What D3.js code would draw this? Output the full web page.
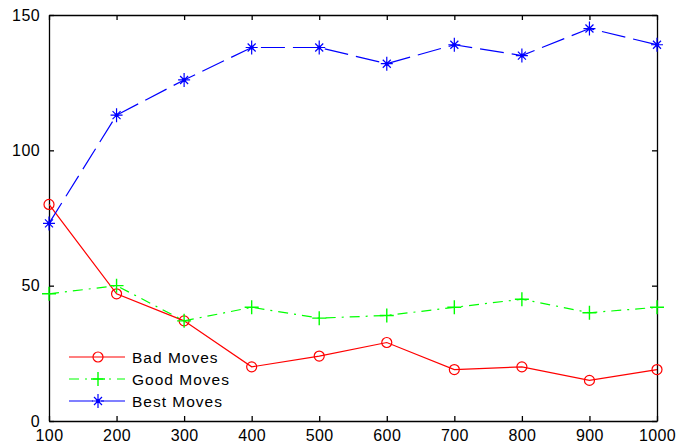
<!DOCTYPE html>
<html>
<head>
<meta charset="utf-8">
<script src="https://cdn.jsdelivr.net/npm/d3@7"></script>
<style>
  body { margin: 0; background: #fff; }
  text { font-family: "Liberation Sans", Arial, sans-serif; }
</style>
</head>
<body>
<div id="chart"></div>
<script>
var xValues = [100, 200, 300, 400, 500, 600, 700, 800, 900, 1000];
var badMoves = [80, 47, 37, 20, 24, 29, 19, 20, 15, 19];
var goodMoves = [47, 50, 37, 42, 38, 39, 42, 45, 40, 42];
var bestMoves = [73, 113, 126, 138, 138, 132, 139, 135, 145, 139];
var yTicks = [0, 50, 100, 150];
var seriesNames = ['Bad Moves', 'Good Moves', 'Best Moves'];

var width = 688, height = 445,
    margin = {top: 15, right: 31, bottom: 24, left: 49};
var w = width - margin.left - margin.right,
    h = height - margin.top - margin.bottom;

var svg = d3.select('#chart').append('svg')
  .attr('width', width)
  .attr('height', height)
  .append('g')
  .attr('transform', `translate(${margin.left},${margin.top})`);

var x = d3.scaleLinear().domain([100, 1000]).range([0, w]);
var y = d3.scaleLinear().domain([0, 150]).range([h, 0]);

var series = [
  {name: seriesNames[0], values: badMoves, color: '#ff0000', dash: null, marker: 'circle'},
  {name: seriesNames[1], values: goodMoves, color: '#00ff00', dash: '10,6,2,6', marker: 'plus'},
  {name: seriesNames[2], values: bestMoves, color: '#0000ff', dash: '24,8', marker: 'star'}
];

// axes, ticks point inward
var tk = 5;
svg.append('g').attr('class', 'x axis')
  .attr('transform', `translate(0,${h})`)
  .call(d3.axisBottom(x).tickValues(xValues).tickFormat(d3.format('d'))
    .tickSizeInner(-tk).tickSizeOuter(0).tickPadding(9));
svg.append('g').attr('class', 'x axis top')
  .call(d3.axisTop(x).tickValues(xValues).tickSizeInner(-tk).tickSizeOuter(0).tickFormat(''));
svg.append('g').attr('class', 'y axis')
  .call(d3.axisLeft(y).tickValues(yTicks).tickSizeInner(-tk).tickSizeOuter(0).tickPadding(9));
svg.append('g').attr('class', 'y axis right')
  .attr('transform', `translate(${w},0)`)
  .call(d3.axisRight(y).tickValues(yTicks).tickSizeInner(-tk).tickSizeOuter(0).tickFormat(''));

svg.selectAll('.axis path, .axis line').attr('stroke', '#000').attr('stroke-width', 1.3);
svg.selectAll('.axis text').attr('font-size', 16).attr('fill', '#000')
  .attr('letter-spacing', 0.4)
  .attr('font-family', '"Liberation Sans", Arial, sans-serif');

function drawMarker(g, type, color) {
  if (type === 'circle') {
    g.append('circle').attr('r', 5).attr('fill', 'none').attr('stroke', color).attr('stroke-width', 1.2);
  } else if (type === 'plus') {
    g.append('path').attr('d', 'M-7,0H7M0,-7V7').attr('stroke', color).attr('stroke-width', 1.4);
  } else {
    g.append('path').attr('d', 'M-6,0H6M0,-7V7M-4,-4L4,4M-4,4L4,-4')
      .attr('stroke', color).attr('stroke-width', 1.2);
    g.append('circle').attr('r', 2).attr('fill', color);
  }
}

var line = d3.line().x((d, i) => x(xValues[i])).y(d => y(d));

series.forEach(s => {
  svg.append('path')
    .datum(s.values)
    .attr('d', line)
    .attr('fill', 'none')
    .attr('stroke', s.color)
    .attr('stroke-width', 1.2)
    .attr('stroke-dasharray', s.dash);
  s.values.forEach((v, i) => {
    var g = svg.append('g').attr('transform', `translate(${x(xValues[i])},${y(v)})`);
    drawMarker(g, s.marker, s.color);
  });
});

// legend
var legend = svg.append('g').attr('transform', 'translate(20,342)');
series.forEach((s, i) => {
  var g = legend.append('g').attr('transform', `translate(0,${i * 22})`);
  g.append('line').attr('x1', 0).attr('x2', 56).attr('y1', 0).attr('y2', 0)
    .attr('stroke', s.color).attr('stroke-width', 1.2).attr('stroke-dasharray', s.dash);
  var m = g.append('g').attr('transform', 'translate(29,0)');
  drawMarker(m, s.marker, s.color);
  g.append('text').attr('x', 63).attr('y', 6).attr('font-size', 15.5)
    .attr('letter-spacing', 1).text(s.name);
});
</script>
</body>
</html>
